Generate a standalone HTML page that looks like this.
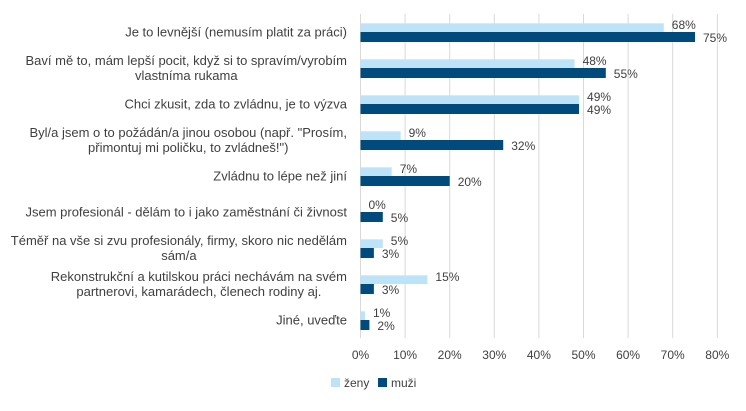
<!DOCTYPE html>
<html><head><meta charset="utf-8"><style>
body{margin:0;background:#fff;font-family:"Liberation Sans",sans-serif;}
svg text{font-family:"Liberation Sans",sans-serif;fill:#404040;}
</style></head><body>
<svg width="746" height="406">
<g id="grid"></g><g id="bars"></g><g id="labels"></g>
<g>
<rect x="331" y="378" width="9" height="9" fill="#BDE3F8"/>
<text x="344" y="387" font-size="12">ženy</text>
<rect x="378" y="378" width="9" height="9" fill="#004A7C"/>
<text x="391" y="387" font-size="12">muži</text>
</g>
</svg>
<script>
const categories=[
["Je to levnější (nemusím platit za práci)"],
["Baví mě to, mám lepší pocit, když si to spravím/vyrobím","vlastníma rukama"],
["Chci zkusit, zda to zvládnu, je to výzva"],
["Byl/a jsem o to požádán/a jinou osobou (např. \"Prosím,","přimontuj mi poličku, to zvládneš!\")"],
["Zvládnu to lépe než jiní"],
["Jsem profesionál - dělám to i jako zaměstnání či živnost"],
["Téměř na vše si zvu profesionály, firmy, skoro nic nedělám","sám/a"],
["Rekonstrukční a kutilskou práci nechávám na svém","partnerovi, kamarádech, členech rodiny aj."],
["Jiné, uveďte"]];
const zeny=[68,48,49,9,7,0,5,15,1];
const muzi=[75,55,49,32,20,5,3,3,2];
const ticks=[0,10,20,30,40,50,60,70,80];
const NS="http://www.w3.org/2000/svg";
const x0=360.5,pxPer=4.46,rowY0=32,rowStep=36;
const xs=v=>x0+v*pxPer;
const ys=i=>rowY0+i*rowStep;
function mk(tag,attrs,parent){const e=document.createElementNS(NS,tag);for(const k in attrs)e.setAttribute(k,attrs[k]);document.getElementById(parent).appendChild(e);return e;}
ticks.forEach(t=>{
 const l=mk('line',{x1:xs(t),x2:xs(t),y1:14,y2:338,stroke:'#D9D9D9','stroke-width':1},'grid');
 
 
 const tx=mk('text',{x:xs(t),y:359,'font-size':12,'text-anchor':'middle'},'labels');
 tx.textContent=t+'%';
 
 
});
categories.forEach((c,i)=>{
 const cy=ys(i);
 const r1=mk('rect',{x:x0,y:cy-8.7,width:zeny[i]*pxPer,height:8.7,fill:'#BDE3F8'},'bars');
 
 
 const r2=mk('rect',{x:x0,y:cy,width:muzi[i]*pxPer,height:10,fill:'#004A7C'},'bars');
 
 
 const t1=mk('text',{x:xs(zeny[i])+8,y:cy-3,'font-size':12},'labels');
 t1.textContent=zeny[i]+'%';
 
 
 const t2=mk('text',{x:xs(muzi[i])+8,y:cy+10,'font-size':12},'labels');
 t2.textContent=muzi[i]+'%';
 
 
 const els=[];
 c.forEach((line,j)=>{
  const y=cy+4.5-(c.length-1)*7.5+j*15;
  const t=mk('text',{x:347,y:y,'font-size':13,'text-anchor':'middle'},'labels');
  t.textContent=line;
  
  
  els.push(t);
 });
 let maxW=0;els.forEach(e=>{maxW=Math.max(maxW,e.getComputedTextLength());});
 els.forEach(e=>e.setAttribute('x',347-maxW/2));
});
</script>
</body></html>
